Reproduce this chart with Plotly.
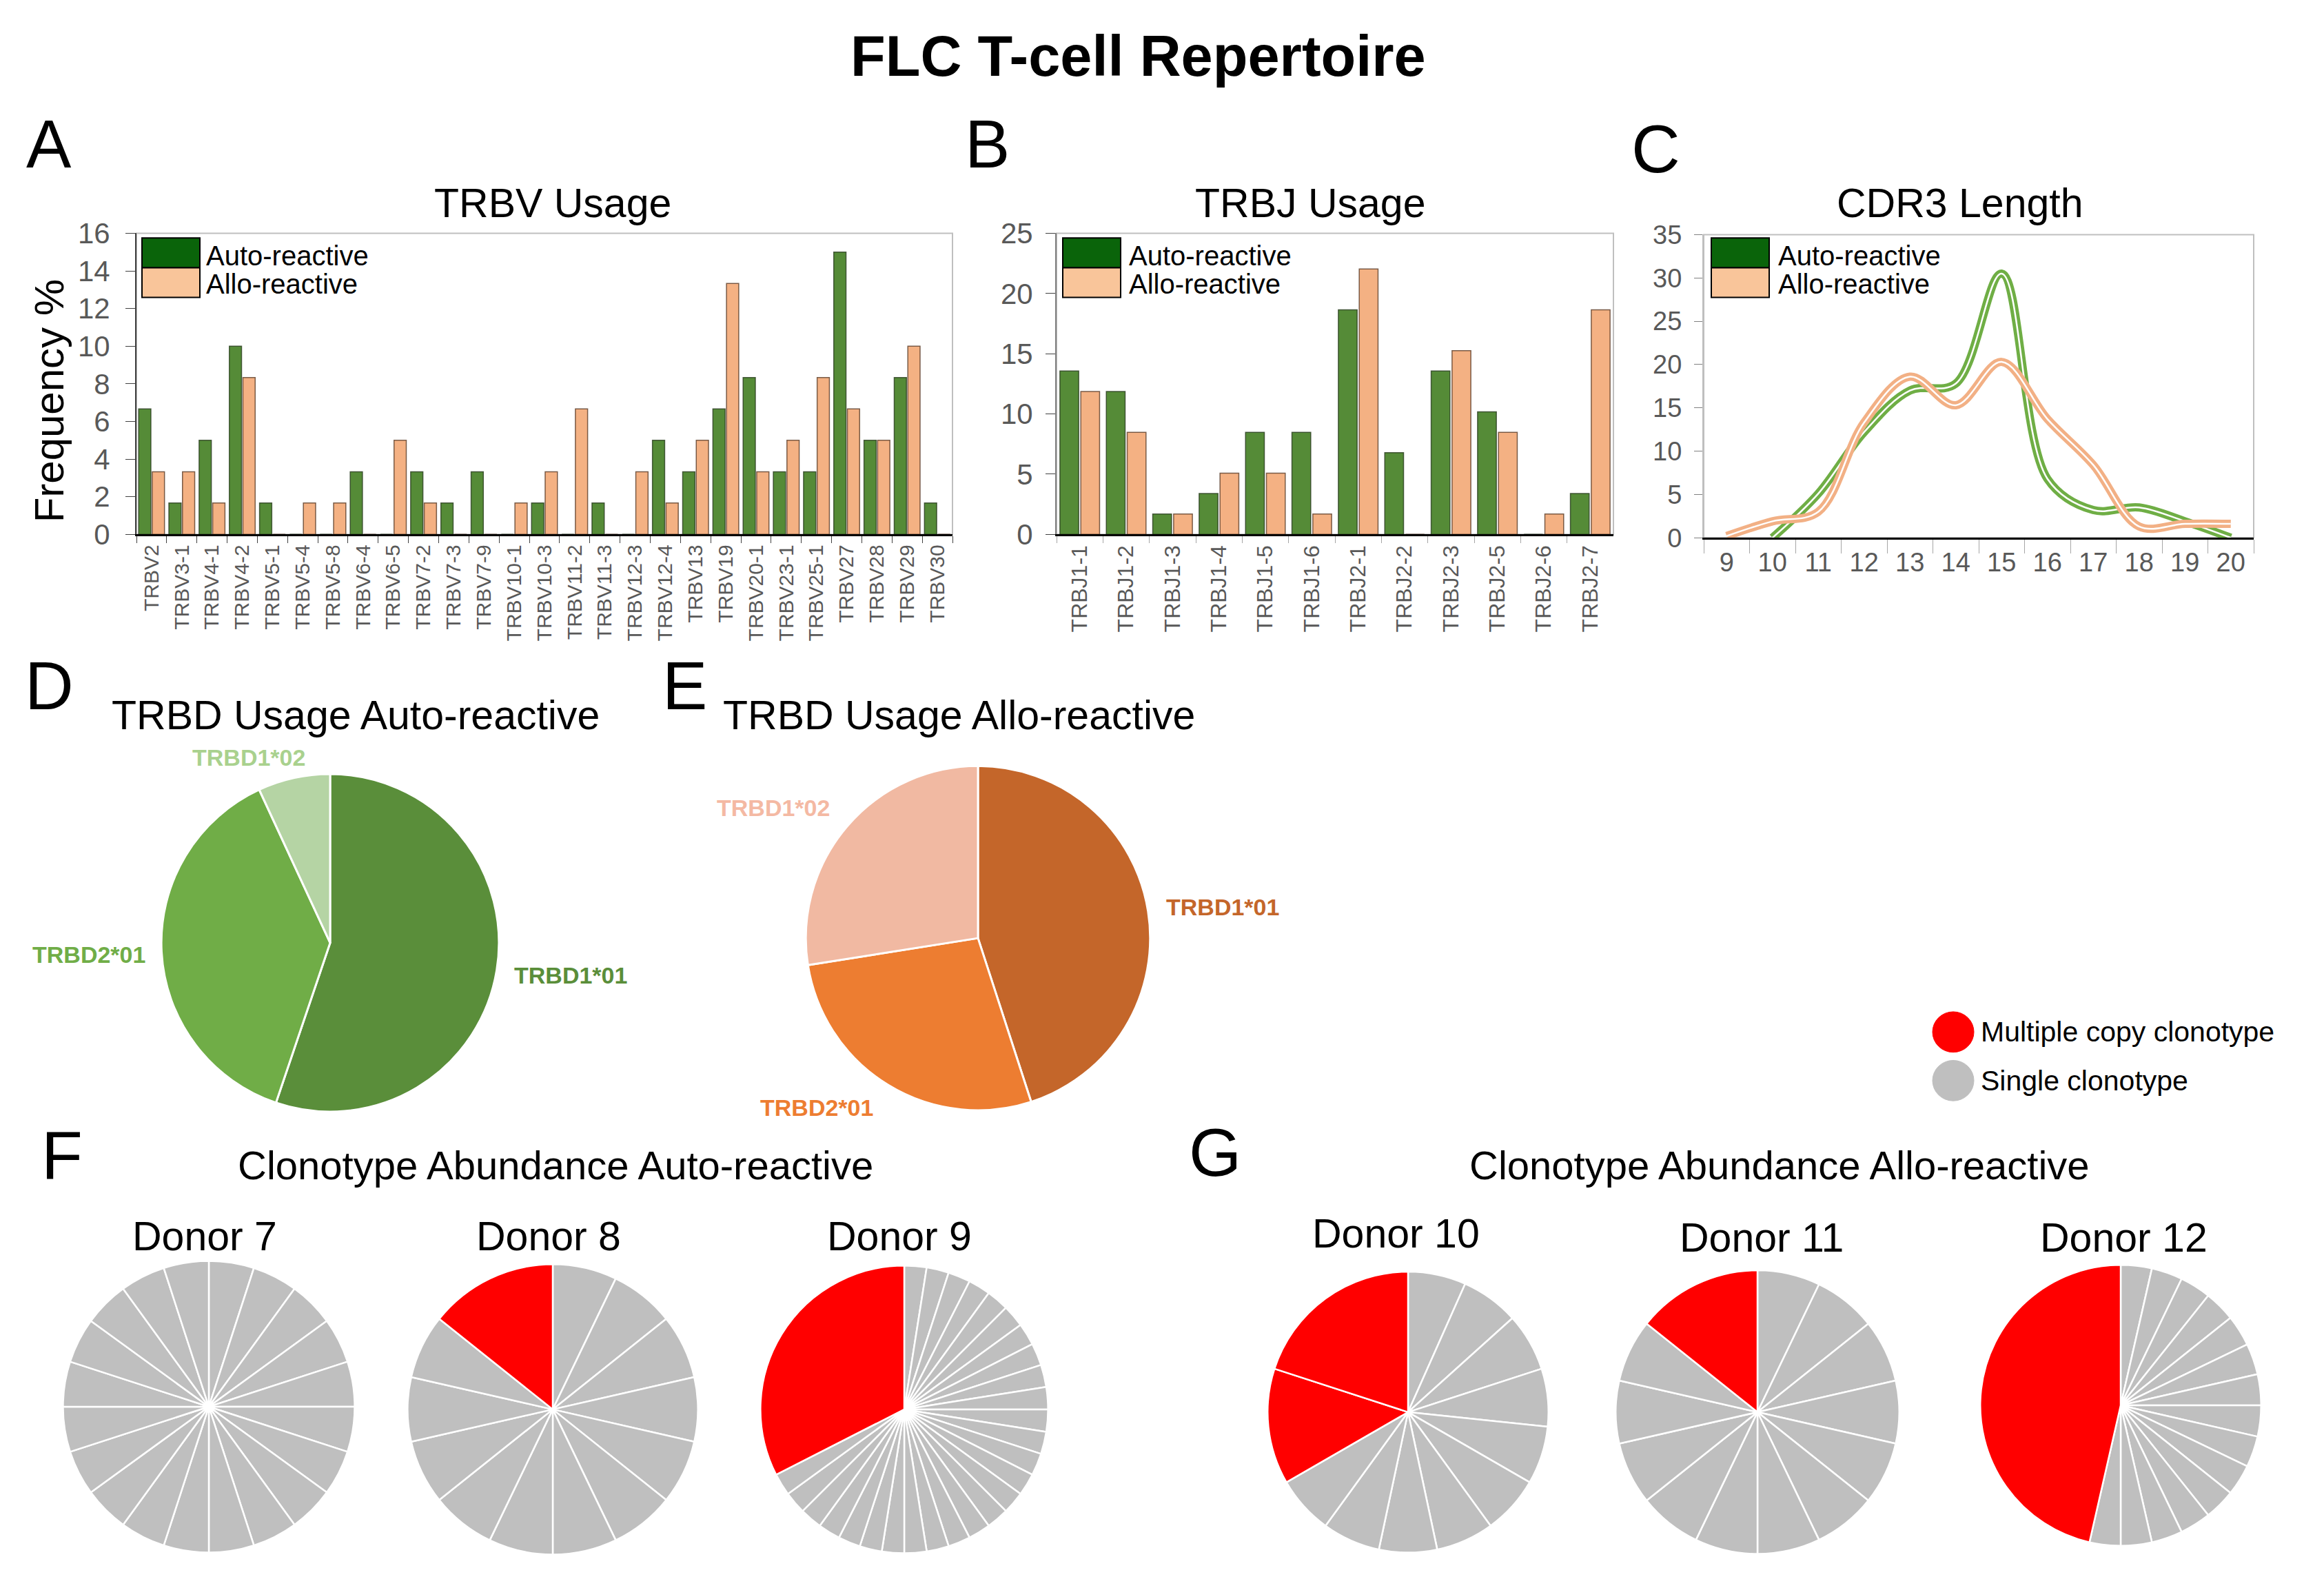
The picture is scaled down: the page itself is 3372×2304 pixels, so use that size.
import plotly.graph_objects as go

W, H = 3372, 2304
FONT = "Liberation Sans, Arial, sans-serif"
GRAY_TXT = "#595959"

# ---------------- data ----------------
trbv_genes = ["TRBV2", "TRBV3-1", "TRBV4-1", "TRBV4-2", "TRBV5-1", "TRBV5-4", "TRBV5-8",
              "TRBV6-4", "TRBV6-5", "TRBV7-2", "TRBV7-3", "TRBV7-9", "TRBV10-1", "TRBV10-3",
              "TRBV11-2", "TRBV11-3", "TRBV12-3", "TRBV12-4", "TRBV13", "TRBV19", "TRBV20-1",
              "TRBV23-1", "TRBV25-1", "TRBV27", "TRBV28", "TRBV29", "TRBV30"]
trbv_auto = [6.67, 1.67, 5.0, 10.0, 1.67, 0, 0, 3.33, 0, 3.33, 1.67, 3.33, 0, 1.67,
             0, 1.67, 0, 5.0, 3.33, 6.67, 8.33, 3.33, 3.33, 15.0, 5.0, 8.33, 1.67]
trbv_allo = [3.33, 3.33, 1.67, 8.33, 0, 1.67, 1.67, 0, 5.0, 1.67, 0, 0, 1.67, 3.33,
             6.67, 0, 3.33, 1.67, 5.0, 13.33, 3.33, 5.0, 8.33, 6.67, 5.0, 10.0, 0]

trbj_genes = ["TRBJ1-1", "TRBJ1-2", "TRBJ1-3", "TRBJ1-4", "TRBJ1-5", "TRBJ1-6",
              "TRBJ2-1", "TRBJ2-2", "TRBJ2-3", "TRBJ2-5", "TRBJ2-6", "TRBJ2-7"]
trbj_auto = [13.56, 11.86, 1.69, 3.39, 8.47, 8.47, 18.64, 6.78, 13.56, 10.17, 0, 3.39]
trbj_allo = [11.86, 8.47, 1.69, 5.08, 5.08, 1.69, 22.03, 0, 15.25, 8.47, 1.69, 18.64]

cdr3_lengths = ["9", "10", "11", "12", "13", "14", "15", "16", "17", "18", "19", "20"]
cdr3_auto = [None, 0, 5.1, 12.2, 17.0, 17.8, 30.5, 6.8, 3.2, 3.5, 1.9, 0]
cdr3_allo = [0.2, 1.9, 3.0, 13.3, 18.6, 15.3, 20.3, 13.7, 8.4, 1.3, 1.6, 1.6]

trbd_genes = ["TRBD1*01", "TRBD2*01", "TRBD1*02"]
trbd_auto = [55.2, 37.9, 6.9]
trbd_allo = [45.0, 27.5, 27.5]

donor_names = ["Donor 7", "Donor 8", "Donor 9", "Donor 10", "Donor 11", "Donor 12"]
donor7 = [1, 1, 1, 1, 1, 1, 1, 1, 1, 1, 1, 1, 1, 1, 1, 1, 1, 1, 1, 1]
donor8 = [1, 1, 1, 1, 1, 1, 1, 1, 1, 1, 1, 1, 2]
donor9 = [1, 1, 1, 1, 1, 1, 1, 1, 1, 1, 1, 1, 1, 1, 1, 1, 1, 1, 1, 1, 1, 1, 1, 1, 1, 1, 1, 13]
donor10 = [1, 1, 1, 1, 1, 1, 1, 1, 1, 1, 2, 3]
donor11 = [1, 1, 1, 1, 1, 1, 1, 1, 1, 1, 1, 1, 2]
donor12 = [1, 1, 1, 1, 1, 1, 1, 1, 1, 1, 1, 1, 1, 1, 1, 13]
donor_counts = [donor7, donor8, donor9, donor10, donor11, donor12]

# ---------------- styles ----------------
AUTO_BAR = "#558B37"
ALLO_BAR = "#F4B183"
AUTO_LINE = "#6FAE45"
ALLO_LINE = "#F2B085"
AUTO_SWATCH = "#0A640A"
ALLO_SWATCH = "#F9C59A"
RED = "#FF0000"
GREY = "#BFBFBF"
D_COLS = ["#5A8E3A", "#70AD47", "#B5D4A4"]
D_TXT = ["#5A8E3A", "#70AD47", "#A9D18E"]
E_COLS = ["#C4662A", "#ED7D31", "#F1B9A2"]
E_TXT = ["#C4662A", "#ED7D31", "#F4B9A3"]


def px(x):
    return x / W


def py(y):
    return 1 - y / H


def dom(cx, cy, r):
    return dict(x=[px(cx - r), px(cx + r)], y=[py(cy + r), py(cy - r)])


fig = go.Figure()

fig.add_trace(go.Bar(x=trbv_genes, y=trbv_auto, name="Auto-reactive", xaxis="x", yaxis="y",
                     marker=dict(color=AUTO_BAR, line=dict(color="rgba(40,60,30,0.8)", width=1.5)),
                     showlegend=False))
fig.add_trace(go.Bar(x=trbv_genes, y=trbv_allo, name="Allo-reactive", xaxis="x", yaxis="y",
                     marker=dict(color=ALLO_BAR, line=dict(color="rgba(90,60,40,0.8)", width=1.5)),
                     showlegend=False))
fig.add_trace(go.Bar(x=trbj_genes, y=trbj_auto, name="Auto-reactive", xaxis="x2", yaxis="y2",
                     marker=dict(color=AUTO_BAR, line=dict(color="rgba(40,60,30,0.8)", width=1.5)),
                     showlegend=False))
fig.add_trace(go.Bar(x=trbj_genes, y=trbj_allo, name="Allo-reactive", xaxis="x2", yaxis="y2",
                     marker=dict(color=ALLO_BAR, line=dict(color="rgba(90,60,40,0.8)", width=1.5)),
                     showlegend=False))
for vals, col in [(cdr3_auto, AUTO_LINE), (cdr3_allo, ALLO_LINE)]:
    fig.add_trace(go.Scatter(x=cdr3_lengths, y=vals, mode="lines", xaxis="x3", yaxis="y3",
                             line=dict(color=col, width=12, shape="spline", smoothing=1.0),
                             showlegend=False, hoverinfo="skip"))
    fig.add_trace(go.Scatter(x=cdr3_lengths, y=vals, mode="lines", xaxis="x3", yaxis="y3",
                             line=dict(color="white", width=2.5, shape="spline", smoothing=1.0),
                             showlegend=False, hoverinfo="skip"))

fig.add_trace(go.Pie(labels=trbd_genes, values=trbd_auto, sort=False, direction="clockwise",
                     rotation=0, domain=dom(479, 1373, 250),
                     marker=dict(colors=D_COLS, line=dict(color="white", width=3)),
                     textinfo="none", showlegend=False))
fig.add_trace(go.Pie(labels=trbd_genes, values=trbd_allo, sort=False, direction="clockwise",
                     rotation=0, domain=dom(1419, 1366, 255),
                     marker=dict(colors=E_COLS, line=dict(color="white", width=3)),
                     textinfo="none", showlegend=False))

pie_pos = [(303, 2060, 216), (802, 2064, 215), (1312, 2064, 213),
           (2043, 2068, 208), (2550, 2068, 210), (3077, 2058, 208)]
for counts, (cx, cy, r) in zip(donor_counts, pie_pos):
    cols = [RED if c > 1 else GREY for c in counts]
    fig.add_trace(go.Pie(values=counts, labels=[f"c{i}" for i in range(len(counts))],
                         sort=False, direction="clockwise", rotation=0,
                         domain=dom(cx, cy, r), textinfo="none",
                         marker=dict(colors=cols, line=dict(color="white", width=2.5)),
                         showlegend=False))

fig.update_layout(
    xaxis=dict(domain=[px(198), px(1382)], anchor="y", type="category", tickson="boundaries",
               ticks="outside", ticklen=10, tickcolor="#404040", tickangle=-90,
               tickfont=dict(family=FONT, size=30, color=GRAY_TXT),
               showline=True, linecolor="black", linewidth=3, showgrid=False,
               range=[-0.5, len(trbv_genes) - 0.5]),
    yaxis=dict(domain=[py(768), py(322)], anchor="x", range=[0, 16], dtick=2,
               ticks="outside", ticklen=14, tickcolor="#404040", ticklabelstandoff=14,
               tickfont=dict(family=FONT, size=42, color=GRAY_TXT),
               showline=True, linecolor="#404040", linewidth=2, showgrid=False, zeroline=False),
    xaxis2=dict(domain=[px(1533), px(2341)], anchor="y2", type="category", tickson="boundaries",
                ticks="outside", ticklen=10, tickcolor="#A6A6A6", tickangle=-90,
                tickfont=dict(family=FONT, size=32, color=GRAY_TXT),
                showline=True, linecolor="black", linewidth=3, showgrid=False,
                range=[-0.5, len(trbj_genes) - 0.5]),
    yaxis2=dict(domain=[py(768), py(322)], anchor="x2", range=[0, 25], dtick=5,
                ticks="outside", ticklen=14, tickcolor="#404040", ticklabelstandoff=10,
                tickfont=dict(family=FONT, size=42, color=GRAY_TXT),
                showline=True, linecolor="#808080", linewidth=2, showgrid=False, zeroline=False),
    xaxis3=dict(domain=[px(2472), px(3270)], anchor="y3", type="category", tickson="boundaries",
                ticks="outside", ticklen=20, tickcolor="#A6A6A6",
                tickfont=dict(family=FONT, size=38, color=GRAY_TXT),
                showline=True, linecolor="black", linewidth=3, showgrid=False,
                range=[-0.5, len(cdr3_lengths) - 0.5]),
    yaxis3=dict(domain=[py(773), py(324)], anchor="x3", range=[0, 35], dtick=5,
                ticks="outside", ticklen=12, tickcolor="#808080", ticklabelstandoff=10,
                tickfont=dict(family=FONT, size=38, color=GRAY_TXT),
                showline=True, linecolor="#BFBFBF", linewidth=2, showgrid=False, zeroline=False),
    barmode="group", bargap=0.1, bargroupgap=0.1,
)

shapes = []
for xr, yr in [("x", "y"), ("x2", "y2"), ("x3", "y3")]:
    shapes.append(dict(type="rect", xref=f"{xr} domain", yref=f"{yr} domain",
                       x0=0, x1=1, y0=0, y1=1, line=dict(color="#BFBFBF", width=2),
                       layer="below"))

annotations = []
for (sx, tx) in [(206, 297), (1542, 1636), (2483, 2578)]:
    shapes.append(dict(type="rect", xref="paper", yref="paper",
                       x0=px(sx), x1=px(sx + 84), y0=py(373), y1=py(329),
                       fillcolor=AUTO_SWATCH, line=dict(color="black", width=2)))
    shapes.append(dict(type="rect", xref="paper", yref="paper",
                       x0=px(sx), x1=px(sx + 84), y0=py(417), y1=py(373),
                       fillcolor=ALLO_SWATCH, line=dict(color="black", width=2)))
    annotations.append(dict(text="Auto-reactive", x=px(tx), y=py(355), xref="paper", yref="paper",
                            xanchor="left", yanchor="middle", showarrow=False,
                            font=dict(family=FONT, size=40, color="black")))
    annotations.append(dict(text="Allo-reactive", x=px(tx), y=py(397), xref="paper", yref="paper",
                            xanchor="left", yanchor="middle", showarrow=False,
                            font=dict(family=FONT, size=40, color="black")))

for cy, col, lab in [(1505, RED, "Multiple copy clonotype"), (1577, GREY, "Single clonotype")]:
    r = 30
    shapes.append(dict(type="circle", xref="paper", yref="paper",
                       x0=px(2834 - r), x1=px(2834 + r), y0=py(cy + r), y1=py(cy - r),
                       fillcolor=col, line=dict(color=col, width=1)))
    annotations.append(dict(text=lab, x=px(2872), y=py(cy), xref="paper", yref="paper",
                            xanchor="left", yanchor="middle", showarrow=False,
                            font=dict(family=FONT, size=41, color="black")))


def ann(text, x, y, size, bold=False, color="black", xanchor="center"):
    annotations.append(dict(text=f"<b>{text}</b>" if bold else text, x=px(x), y=py(y),
                            xref="paper", yref="paper", xanchor=xanchor, yanchor="middle",
                            showarrow=False, font=dict(family=FONT, size=size, color=color)))


# TRBD slice labels
for lab, col, (x, y) in zip(trbd_genes, D_TXT, [(828, 1421), (129, 1390), (361, 1098)]):
    ann(lab, x, y, 34, bold=True, color=col)
for lab, col, (x, y) in zip(trbd_genes, E_TXT, [(1774, 1320), (1185, 1617), (1122, 1173)]):
    ann(lab, x, y, 34, bold=True, color=col)

ann("FLC T-cell Repertoire", 1651, 60, 83, bold=True)
for letter, x, y in [("A", 71, 190), ("B", 1432, 190), ("C", 2402, 197), ("D", 71, 992),
                     ("E", 993, 992), ("F", 90, 1687), ("G", 1763, 1683)]:
    ann(letter, x, y, 98)
ann("TRBV Usage", 802, 278, 59)
ann("TRBJ Usage", 1901, 278, 59)
ann("CDR3 Length", 2844, 278, 59)
ann("TRBD Usage Auto-reactive", 516, 1036, 59)
ann("TRBD Usage Allo-reactive", 1391, 1036, 59)
ann("Clonotype Abundance Auto-reactive", 806, 1702, 58)
ann("Clonotype Abundance Allo-reactive", 2582, 1702, 58)
for name, (x, y) in zip(donor_names, [(297, 1808), (796, 1808), (1305, 1808),
                                      (2025, 1804), (2556, 1810), (3081, 1810)]):
    ann(name, x, y, 59)

annotations.append(dict(text="Frequency %", x=px(71), y=py(570), xref="paper", yref="paper",
                        xanchor="center", yanchor="middle", showarrow=False, textangle=-90,
                        font=dict(family=FONT, size=60, color="black")))

fig.update_layout(
    width=W, height=H, margin=dict(l=0, r=0, t=0, b=0),
    paper_bgcolor="white", plot_bgcolor="white",
    font=dict(family=FONT),
    shapes=shapes, annotations=annotations,
)

fig.write_html("out.html", config={"displayModeBar": False},
               post_script="document.body.style.margin='0';")
